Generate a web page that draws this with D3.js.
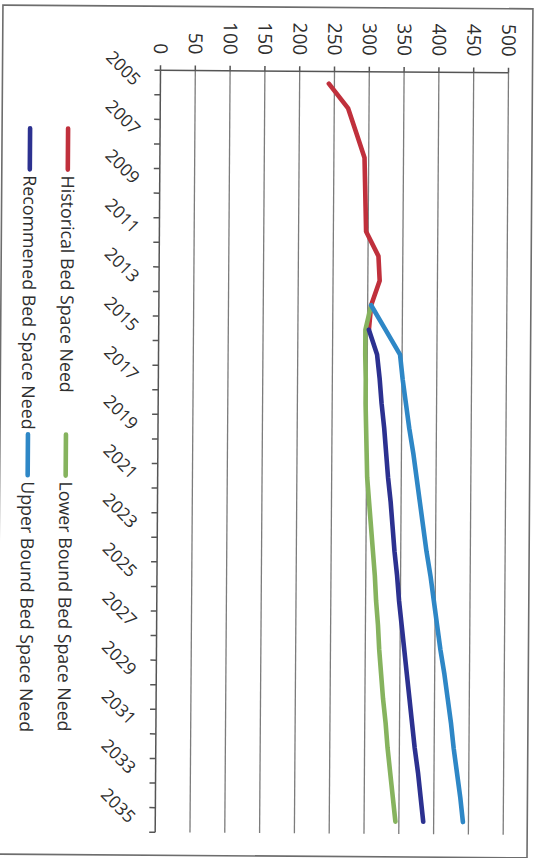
<!DOCTYPE html>
<html>
<head>
<meta charset="utf-8">
<script src="https://cdnjs.cloudflare.com/ajax/libs/d3/7.8.5/d3.min.js"></script>
<style>
  body { margin: 0; background: #fff; }
  svg { display: block; font-family: "Open Sans", sans-serif; }
  .grid { stroke: #7c7c7c; stroke-width: 1.3; }
  .axis { stroke: #555; stroke-width: 1.5; fill: none; }
  .lbl { fill: #2e2e2e; }
  .line { fill: none; stroke-width: 4.6; stroke-linejoin: round; stroke-linecap: round; }
</style>
</head>
<body>
<svg width="536" height="858"></svg>
<script>
// categories (years) and series
var years = [2005, 2006, 2007, 2008, 2009, 2010, 2011, 2012, 2013, 2014,
             2015, 2016, 2017, 2018, 2019, 2020, 2021, 2022, 2023, 2024,
             2025, 2026, 2027, 2028, 2029, 2030, 2031, 2032, 2033, 2034, 2035];
var yearLabels = [2005, 2007, 2009, 2011, 2013, 2015, 2017, 2019, 2021, 2023,
                  2025, 2027, 2029, 2031, 2033, 2035];
var valueTicks = [0, 50, 100, 150, 200, 250, 300, 350, 400, 450, 500];

var historical = [242, 270, 282, 294, 295, 296, 297, 315, 317, 305,
                  302, null, null, null, null, null, null, null, null, null,
                  null, null, null, null, null, null, null, null, null, null, null];
var lowerBound = [null, null, null, null, null, null, null, null, null, 305,
                  297, 297, 298, 298, 299, 300, 301, 304, 307, 310,
                  313, 315, 318, 320, 323, 326, 330, 333, 337, 341, 345];
var recommended = [null, null, null, null, null, null, null, null, null, null,
                   302, 314, 318, 321, 325, 328, 331, 335, 338, 341,
                   345, 348, 352, 356, 360, 364, 368, 372, 377, 381, 385];
var upperBound = [null, null, null, null, null, null, null, null, null, 305,
                  326, 347, 351, 356, 361, 367, 372, 377, 382, 387,
                  393, 398, 403, 408, 414, 419, 424, 428, 433, 438, 442];

var seriesNames = ["Historical Bed Space Need", "Lower Bound Bed Space Need",
                   "Recommened Bed Space Need", "Upper Bound Bed Space Need"];
var seriesColors = ["#c0303c", "#86b35e", "#2c3190", "#2e87c6"];
var seriesValues = [historical, lowerBound, recommended, upperBound];

var svg = d3.select("svg");
// the scan sits a little crooked, so the whole page is turned a touch
var g = svg.append("g").attr("transform", "rotate(0.4,268,429)");

g.append("rect")
  .attr("x", 0).attr("y", 7).attr("width", 530).attr("height", 849)
  .attr("fill", "none").attr("stroke", "#6d6d6d").attr("stroke-width", 1.6);

// chart is drawn turned on its side: values run left->right, years run top->bottom
var x = d3.scaleLinear().domain([0, 500]).range([158, 506]);
var y = d3.scaleBand().domain(years).range([71, 833]);
var plotTop = y.range()[0], plotBottom = y.range()[1];
var axisX = x(0);

// grid lines + ticks for the value axis
g.selectAll("line.grid")
  .data(valueTicks.filter(function(v) { return v > 0; }))
  .enter().append("line")
  .attr("class", "grid")
  .attr("x1", function(d) { return x(d); })
  .attr("x2", function(d) { return x(d); })
  .attr("y1", plotTop).attr("y2", plotBottom);

g.selectAll("line.vtick")
  .data(valueTicks)
  .enter().append("line")
  .attr("class", "axis")
  .attr("x1", function(d) { return x(d); })
  .attr("x2", function(d) { return x(d); })
  .attr("y1", plotTop - 5).attr("y2", plotTop);

g.append("line").attr("class", "axis")
  .attr("x1", axisX).attr("x2", x(500)).attr("y1", plotTop).attr("y2", plotTop);

// year axis with ticks on category boundaries
var bounds = years.map(function(d) { return y(d); }).concat([plotBottom]);
g.append("line").attr("class", "axis")
  .attr("x1", axisX).attr("x2", axisX).attr("y1", plotTop).attr("y2", plotBottom);
g.selectAll("line.ytick")
  .data(bounds)
  .enter().append("line")
  .attr("class", "axis")
  .attr("x1", axisX - 6).attr("x2", axisX)
  .attr("y1", function(d) { return d; })
  .attr("y2", function(d) { return d; });

// value labels (rotated)
g.selectAll("text.vlab")
  .data(valueTicks)
  .enter().append("text")
  .attr("class", "lbl")
  .attr("transform", function(d) { return "translate(" + x(d) + "," + (plotTop - 16) + ") rotate(90)"; })
  .attr("text-anchor", "end")
  .attr("dy", "0.35em")
  .style("font-size", "19px")
  .text(function(d) { return d; });

// year labels (diagonal)
g.selectAll("text.ylab")
  .data(yearLabels)
  .enter().append("text")
  .attr("class", "lbl")
  .attr("transform", function(d) {
    return "translate(" + (axisX - 23) + "," + (y(d) + y.bandwidth() / 2) + ") rotate(45)";
  })
  .attr("text-anchor", "end")
  .attr("dy", "0.35em")
  .style("font-size", "17.5px")
  .text(function(d) { return d; });

// series lines
var line = d3.line()
  .defined(function(d) { return d.value != null; })
  .x(function(d) { return x(d.value); })
  .y(function(d) { return y(d.year) + y.bandwidth() / 2; });

g.selectAll("path.line")
  .data(seriesValues)
  .enter().append("path")
  .attr("class", "line")
  .style("stroke", function(d, i) { return seriesColors[i]; })
  .attr("d", function(vals) {
    return line(vals.map(function(v, i) { return { year: years[i], value: v }; }));
  });

// legend: two columns, two rows, text reads downwards
var legCol = [66, 28], legRow = [130, 436];
var leg = g.selectAll("g.leg")
  .data(seriesNames)
  .enter().append("g")
  .attr("transform", function(d, i) {
    return "translate(" + legCol[Math.floor(i / 2)] + "," + legRow[i % 2] + ")";
  });
leg.append("line")
  .attr("x1", 0).attr("x2", 0).attr("y1", 0).attr("y2", 41)
  .attr("stroke-width", 4.6)
  .attr("stroke-linecap", "round")
  .attr("stroke", function(d, i) { return seriesColors[i]; });
leg.append("text")
  .attr("class", "lbl")
  .attr("transform", "translate(0,47) rotate(90)")
  .attr("dy", "0.35em")
  .style("font-size", "17.8px")
  .text(function(d) { return d; });
</script>
</body>
</html>
